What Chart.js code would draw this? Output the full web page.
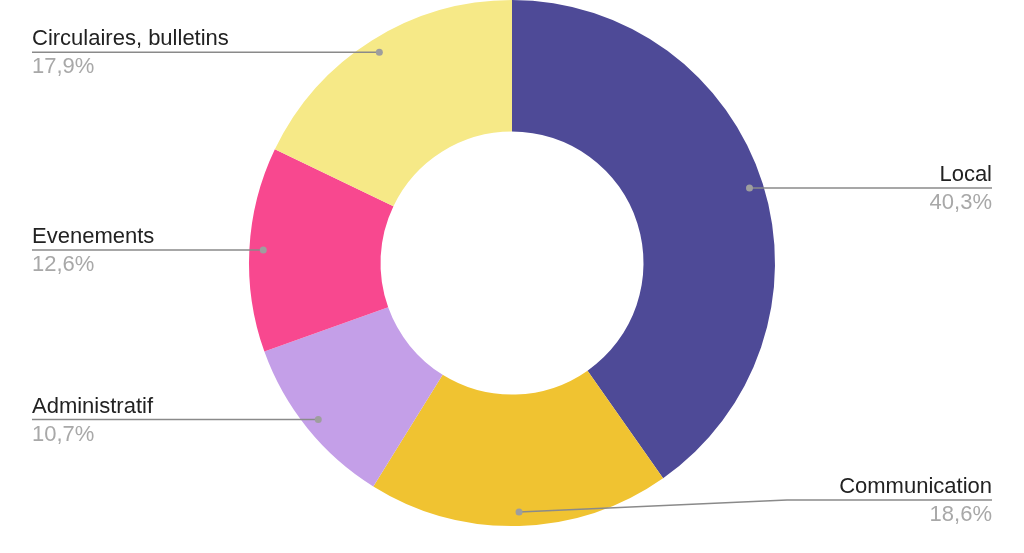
<!DOCTYPE html>
<html>
<head>
<meta charset="utf-8">
<script src="https://cdn.jsdelivr.net/npm/chart.js@4"></script>
<style>
  html, body { margin: 0; padding: 0; background: #fff; }
  #wrap { width: 1024px; height: 553px; }
</style>
</head>
<body>
<div id="wrap"><canvas id="pie"></canvas></div>
<script>
// pie data, clockwise from 12 o'clock
const labels = ['Local', 'Communication', 'Administratif', 'Evenements', 'Circulaires, bulletins'];
const values = [40.3, 18.6, 10.7, 12.6, 17.9];
const colors = ['#4e4a97', '#f0c331', '#c49fe8', '#f8488f', '#f6e987'];

const fmt = v => v.toFixed(1).replace('.', ',') + '%';

// leader lines + labels at the sides
const sideLabels = {
  id: 'sideLabels',
  afterDatasetsDraw(chart) {
    const ctx = chart.ctx;
    const meta = chart.getDatasetMeta(0);
    const area = chart.chartArea;
    const leftX = 32, rightX = 992;
    meta.data.forEach((arc, i) => {
      const p = arc.getProps(['x', 'y', 'startAngle', 'endAngle', 'outerRadius'], true);
      const mid = (p.startAngle + p.endAngle) / 2;
      const r = p.outerRadius * 0.947;
      const dx = p.x + Math.cos(mid) * r;
      const dy = p.y + Math.sin(mid) * r;
      const right = Math.cos(mid) >= 0;
      const ly = Math.min(dy, area.bottom - 26);
      const edge = right ? rightX : leftX;

      ctx.save();
      ctx.strokeStyle = '#8a8a8a';
      ctx.lineWidth = 1.5;
      ctx.beginPath();
      ctx.moveTo(dx, dy);
      if (Math.abs(ly - dy) > 1) {
        const elbow = right ? edge - 205 : edge + 205;
        ctx.lineTo(elbow, ly);
      }
      ctx.lineTo(edge, ly);
      ctx.stroke();

      ctx.fillStyle = '#9e9e9e';
      ctx.beginPath();
      ctx.arc(dx, dy, 3.5, 0, Math.PI * 2);
      ctx.fill();

      ctx.textAlign = right ? 'right' : 'left';
      ctx.textBaseline = 'alphabetic';
      ctx.font = '22px "Liberation Sans", Arial, sans-serif';
      ctx.fillStyle = '#222';
      ctx.fillText(labels[i], edge, ly - 7);
      ctx.fillStyle = '#a8a8a8';
      ctx.fillText(fmt(values[i]), edge, ly + 21);
      ctx.restore();
    });
  }
};

new Chart(document.getElementById('pie'), {
  type: 'doughnut',
  data: {
    labels,
    datasets: [{ data: values, backgroundColor: colors, borderWidth: 0 }]
  },
  options: {
    responsive: true,
    maintainAspectRatio: false,
    animation: false,
    cutout: '50%',
    layout: { padding: { top: 0, bottom: 27, left: 0, right: 0 } },
    plugins: { legend: { display: false }, tooltip: { enabled: false } }
  },
  plugins: [sideLabels]
});
</script>
</body>
</html>
